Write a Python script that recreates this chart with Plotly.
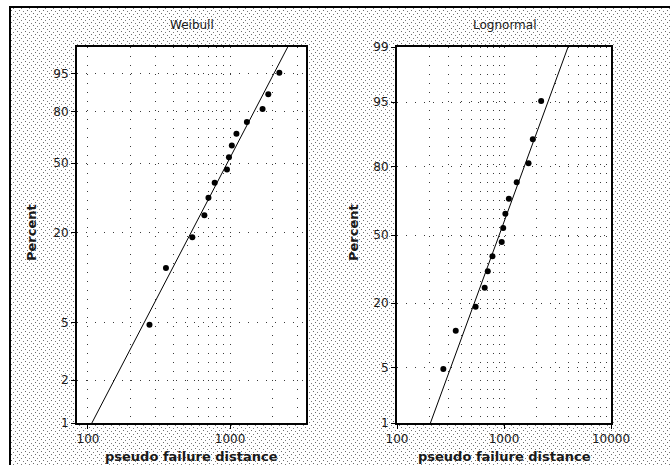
import base64
import math
from statistics import NormalDist

import plotly.graph_objects as go

# Pseudo failure distances (sorted) and their median-rank plotting positions (%)
distance = [271, 354, 543, 660, 705, 780, 952, 983, 1030, 1110, 1315, 1695, 1860, 2225]
percent = [4.86, 11.81, 18.75, 25.69, 32.64, 39.58, 46.53, 53.47, 60.42, 67.36, 74.31, 81.25, 88.19, 95.14]

# Fitted distribution parameters
weibull_shape = 1.93
weibull_scale = 1155.0
lognormal_loc = 6.805     # mean of ln(distance)
lognormal_scale = 0.6364  # std dev of ln(distance)

# Axis ticks
weibull_pct_ticks = [1, 2, 5, 20, 50, 80, 95]
lognormal_pct_ticks = [1, 5, 20, 50, 80, 95, 99]
weibull_x_labels = [100, 1000]
weibull_x_grid = [200, 300, 400, 500, 600, 700, 800, 900, 2000, 3000]
lognormal_x_labels = [100, 1000, 10000]
lognormal_x_grid = [200, 300, 400, 500, 600, 700, 800, 900,
                    2000, 3000, 4000, 5000, 6000, 7000, 8000, 9000]
pct_range = [1, 99]


def weibull_y(p):
    return math.log(-math.log(1 - p / 100.0))


def lognormal_y(p):
    return NormalDist().inv_cdf(p / 100.0)


W, H = 670, 465
FONT = "DejaVu Sans"
INK = "#1a1a1a"
GRID = dict(showgrid=True, gridcolor="#3a3a3a", gridwidth=1, griddash="1px,8px")

# stippled page texture
svg = (
    f"<svg xmlns='http://www.w3.org/2000/svg' width='{W}' height='{H}'>"
    "<defs><pattern id='p' width='8' height='6' patternUnits='userSpaceOnUse'>"
    "<rect x='1' y='1' width='1' height='1' fill='#6a6a6a'/>"
    "<rect x='5' y='2' width='1' height='1' fill='#7a7a7a'/>"
    "<rect x='3' y='4' width='1' height='1' fill='#6a6a6a'/>"
    "<rect x='7' y='5' width='1' height='1' fill='#7a7a7a'/>"
    "</pattern></defs>"
    f"<rect width='{W}' height='{H}' fill='white'/>"
    f"<rect x='10' y='7' width='{W}' height='{H}' fill='url(#p)'/>"
    "</svg>"
)
texture = "data:image/svg+xml;base64," + base64.b64encode(svg.encode()).decode()

fig = go.Figure()

# ---- Weibull panel
fig.add_trace(go.Scatter(
    x=distance, y=[weibull_y(p) for p in percent], mode="markers", xaxis="x", yaxis="y",
    marker=dict(color="black", size=6), showlegend=False))
w_line_x = [weibull_scale * (-math.log(1 - p / 100.0)) ** (1 / weibull_shape) for p in pct_range]
fig.add_trace(go.Scatter(
    x=w_line_x, y=[weibull_y(p) for p in pct_range], mode="lines", xaxis="x", yaxis="y",
    line=dict(color="black", width=1), showlegend=False))

# ---- Lognormal panel
fig.add_trace(go.Scatter(
    x=distance, y=[lognormal_y(p) for p in percent], mode="markers", xaxis="x2", yaxis="y2",
    marker=dict(color="black", size=6), showlegend=False))
l_line_x = [math.exp(lognormal_loc + lognormal_scale * lognormal_y(p)) for p in pct_range]
fig.add_trace(go.Scatter(
    x=l_line_x, y=[lognormal_y(p) for p in pct_range], mode="lines", xaxis="x2", yaxis="y2",
    line=dict(color="black", width=1), showlegend=False))

ydom = [1 - 423 / H, 1 - 47 / H]
axis_common = dict(
    showline=True, linecolor="black", linewidth=2, mirror=True,
    ticks="outside", ticklen=4, tickcolor="black", tickwidth=1,
    tickfont=dict(family=FONT, size=12, color=INK), zeroline=False,
    automargin=False,
    **GRID,
)

fig.update_layout(
    width=W, height=H,
    margin=dict(l=0, r=0, t=0, b=0, autoexpand=False),
    paper_bgcolor="white", plot_bgcolor="white",
    images=[dict(source=texture, xref="paper", yref="paper", x=0, y=1,
                 sizex=1, sizey=1, sizing="stretch", layer="below",
                 xanchor="left", yanchor="top")],
    xaxis=dict(domain=[77 / W, 306 / W], type="log",
               range=[math.log10(83.7), math.log10(3428)],
               tickvals=weibull_x_labels, ticktext=[str(v) for v in weibull_x_labels],
               minor=dict(tickvals=weibull_x_grid, ticklen=0, **GRID),
               anchor="y", **axis_common),
    yaxis=dict(domain=ydom, range=[weibull_y(pct_range[0]), weibull_y(pct_range[1])],
               tickvals=[weibull_y(p) for p in weibull_pct_ticks],
               ticktext=[str(p) for p in weibull_pct_ticks],
               anchor="x", **axis_common),
    xaxis2=dict(domain=[397 / W, 611 / W], type="log", range=[2, 4],
                tickvals=lognormal_x_labels, ticktext=[str(v) for v in lognormal_x_labels],
                minor=dict(tickvals=lognormal_x_grid, ticklen=0, **GRID),
                anchor="y2", **axis_common),
    yaxis2=dict(domain=ydom, range=[lognormal_y(pct_range[0]), lognormal_y(pct_range[1])],
                tickvals=[lognormal_y(p) for p in lognormal_pct_ticks],
                ticktext=[str(p) for p in lognormal_pct_ticks],
                anchor="x2", **axis_common),
)

# white plotting areas over the texture
for xr, yr in (("x domain", "y domain"), ("x2 domain", "y2 domain")):
    fig.add_shape(type="rect", xref=xr, yref=yr, x0=0, x1=1, y0=0, y1=1,
                  fillcolor="white", line=dict(width=0), layer="below")

# outer frame (top and left edges)
fig.add_shape(type="line", xref="paper", yref="paper", x0=9 / W, x1=1, y0=1 - 7 / H, y1=1 - 7 / H,
              line=dict(color="black", width=2))
fig.add_shape(type="line", xref="paper", yref="paper", x0=10 / W, x1=10 / W, y0=0, y1=1 - 6 / H,
              line=dict(color="black", width=2))

ann = []
for cx, title in ((191.5, "Weibull"), (504, "Lognormal")):
    ann.append(dict(x=cx / W, y=1 - 25 / H, xref="paper", yref="paper", text=title,
                    showarrow=False, font=dict(family=FONT, size=12, color=INK),
                    xanchor="center", yanchor="middle"))
for cx in (191.5, 504):
    ann.append(dict(x=cx / W, y=1 - 456 / H, xref="paper", yref="paper",
                    text="<b>pseudo failure distance</b>", showarrow=False,
                    font=dict(family=FONT, size=13, color=INK),
                    xanchor="center", yanchor="middle"))
for cx in (31, 353):
    ann.append(dict(x=cx / W, y=1 - 233 / H, xref="paper", yref="paper",
                    text="<b>Percent</b>", showarrow=False, textangle=-90,
                    font=dict(family=FONT, size=13, color=INK),
                    xanchor="center", yanchor="middle"))
fig.update_layout(annotations=ann)

fig.write_html("out.html")
